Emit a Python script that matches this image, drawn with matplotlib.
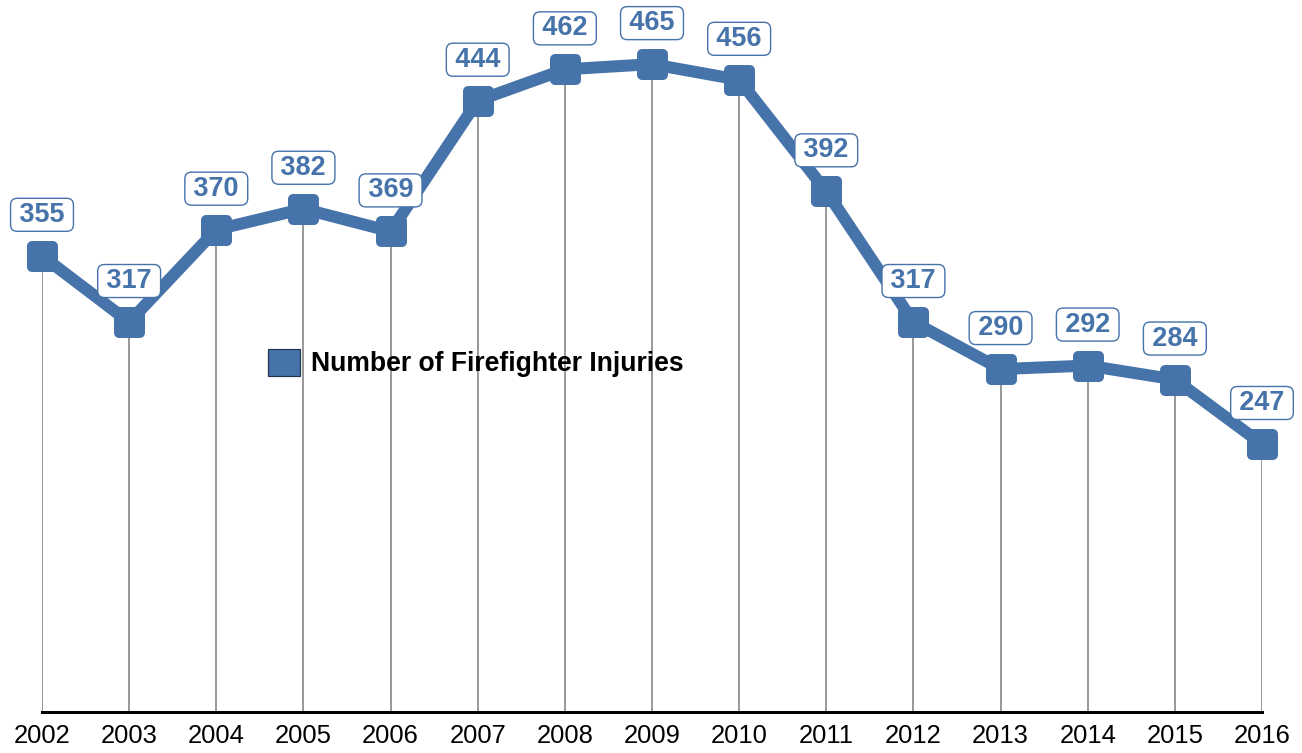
import matplotlib
matplotlib.use("Agg")
import matplotlib.pyplot as plt
from matplotlib.markers import MarkerStyle
from matplotlib.patches import Patch

years = [2002, 2003, 2004, 2005, 2006, 2007, 2008, 2009, 2010, 2011, 2012, 2013, 2014, 2015, 2016]
injuries = [355, 317, 370, 382, 369, 444, 462, 465, 456, 392, 317, 290, 292, 284, 247]
series_name = "Number of Firefighter Injuries"

BLUE = "#4673aa"
DPI = 100
PX = 72.0 / DPI  # points per pixel
FAM = ["Liberation Sans", "DejaVu Sans"]

fig = plt.figure(figsize=(13.02, 7.53), dpi=DPI)
ax = fig.add_axes([42 / 1302, 41 / 753, 1220 / 1302, 712 / 753])
ax.set_xlim(years[0], years[-1])
ax.set_ylim(93.2, 501.8)

# vertical drop lines
ax.vlines(years, 93.2, injuries, color="#9a9a9a", lw=2 * PX, zorder=1)

# main line with rounded square markers
mk = MarkerStyle("s", joinstyle="round")
ax.plot(years, injuries, color=BLUE, lw=12 * PX, solid_joinstyle="round",
        marker=mk, ms=21 * PX, mew=10 * PX, mfc=BLUE, mec=BLUE,
        zorder=3, clip_on=False)

# data labels
for x, v in zip(years, injuries):
    ax.annotate("\u2009" + str(v) + "\u2009", (x, v), xytext=(0, 41 * PX),
                textcoords="offset points",
                ha="center", va="center", color=BLUE, fontsize=27 * PX,
                family=FAM, weight="bold", annotation_clip=False, zorder=5,
                bbox=dict(boxstyle="round,pad=0.13,rounding_size=0.25",
                          fc="white", ec=BLUE, lw=1.4 * PX))

# axes styling
for s in ["left", "right", "top"]:
    ax.spines[s].set_visible(False)
ax.spines["bottom"].set_linewidth(3 * PX)
ax.spines["bottom"].set_color("black")
ax.set_yticks([])
ax.set_xticks(years)
ax.set_xticklabels([str(y) for y in years], family=FAM, fontsize=25.5 * PX)
ax.tick_params(axis="x", length=0, pad=12 * PX)

# legend
handle = Patch(facecolor=BLUE, edgecolor="#22344d", lw=1.2 * PX)
fontsize = 26.5 * PX
fig.legend(handles=[handle], labels=[series_name], loc="center left",
           bbox_to_anchor=(268 / 1302, (753 - 363) / 753), frameon=False,
           borderpad=0, borderaxespad=0, handlelength=32 * PX / fontsize,
           handleheight=32 * PX / fontsize, handletextpad=11 * PX / fontsize,
           prop=dict(family=FAM, weight="bold", size=fontsize))

fig.savefig("out.png", dpi=DPI)
